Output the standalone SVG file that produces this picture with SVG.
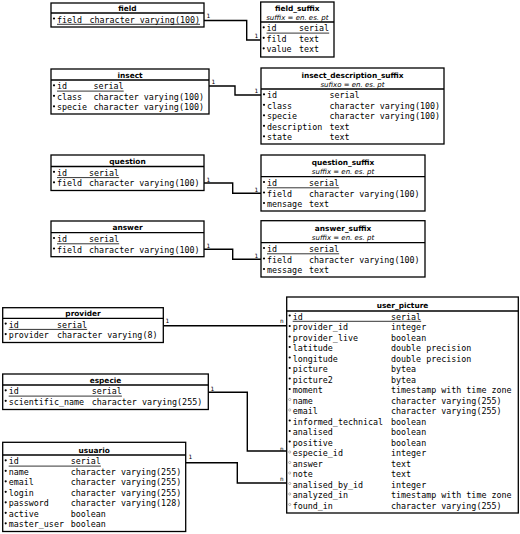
<svg xmlns="http://www.w3.org/2000/svg" width="520" height="534" viewBox="0 0 520 534">
<style>
.box{fill:#fff;stroke:#000;stroke-width:1.3}
.sep{stroke:#000;stroke-width:1.3}
.t{font-family:"DejaVu Sans",sans-serif;font-weight:bold;font-size:7.4px;text-anchor:middle;fill:#000}
.s{font-family:"DejaVu Sans",sans-serif;font-style:italic;font-size:7px;text-anchor:middle;fill:#000}
.r{font-family:"DejaVu Sans Mono",monospace;font-size:8.35px;fill:#000}
.u{stroke:#000;stroke-width:0.8}
.nn{fill:#000}
.nl{fill:#fff;stroke:#888;stroke-width:0.6}
.c{fill:none;stroke:#000;stroke-width:1.4}
.l{font-family:"DejaVu Sans Mono",monospace;font-size:6px;fill:#000}
</style>
<rect width="520" height="534" fill="#fff"/>
<g id="connectors">
<path class="c" d="M204,20.5 H246.7 V40 H260.7"/>
<path class="c" d="M209,86 H235 V95 H261"/>
<path class="c" d="M204,183 H232.7 V193.3 H261"/>
<path class="c" d="M204,249.3 H232.7 V259.3 H261"/>
<path class="c" d="M163.3,325.7 H286.7"/>
<path class="c" d="M208.3,392.3 H247.3 V451 H286.7"/>
<path class="c" d="M185.7,462.7 H237.3 V483 H286.7"/>
<text class="l" x="206.5" y="17.5">1</text>
<text class="l" x="254.5" y="37.5">1</text>
<text class="l" x="211.5" y="84">1</text>
<text class="l" x="254.5" y="93">1</text>
<text class="l" x="206.5" y="181.5">1</text>
<text class="l" x="254.5" y="191.5">1</text>
<text class="l" x="206.5" y="247.5">1</text>
<text class="l" x="254.5" y="257.5">1</text>
<text class="l" x="165.5" y="322.5">1</text>
<text class="l" x="280" y="322.5">n</text>
<text class="l" x="210.5" y="391">1</text>
<text class="l" x="280" y="450.5">n</text>
<text class="l" x="188.5" y="459">1</text>
<text class="l" x="280" y="480.5">n</text>
</g>
<g id="field">
<rect class="box" x="51" y="3" width="153" height="24"/>
<line class="sep" x1="51" y1="13" x2="204" y2="13"/>
<text class="t" x="127.5" y="10.8">field</text>
<circle class="nn" cx="54" cy="18.5" r="1.1"/>
<text class="r" x="57" y="22.5">field</text><text class="r" x="89.5" y="22.5">character varying(100)</text>
<line class="u" x1="57" y1="24.3" x2="200" y2="24.3"/>
</g>
<g id="field_suffix">
<rect class="box" x="260.7" y="2" width="73.3" height="55"/>
<line class="sep" x1="260.7" y1="22" x2="334" y2="22"/>
<text class="t" x="297.3" y="10.8">field_suffix</text>
<text class="s" x="297.3" y="19.5">suffix = en. es. pt</text>
<circle class="nn" cx="263.7" cy="27.3" r="1.1"/>
<text class="r" x="266.5" y="31.3">id</text><text class="r" x="299" y="31.3">serial</text>
<line class="u" x1="266.5" y1="33.1" x2="329.2" y2="33.1"/>
<circle class="nn" cx="263.7" cy="37.8" r="1.1"/>
<text class="r" x="266.5" y="41.8">fild</text><text class="r" x="299" y="41.8">text</text>
<circle class="nn" cx="263.7" cy="48.3" r="1.1"/>
<text class="r" x="266.5" y="52.3">value</text><text class="r" x="299" y="52.3">text</text>
</g>
<g id="insect">
<rect class="box" x="51" y="69" width="158" height="45"/>
<line class="sep" x1="51" y1="80" x2="209" y2="80"/>
<text class="t" x="130" y="77.7">insect</text>
<circle class="nn" cx="54" cy="85.3" r="1.1"/>
<text class="r" x="57" y="89.3">id</text><text class="r" x="93.5" y="89.3">serial</text>
<line class="u" x1="57" y1="91.1" x2="123.7" y2="91.1"/>
<circle class="nn" cx="54" cy="95.8" r="1.1"/>
<text class="r" x="57" y="99.8">class</text><text class="r" x="93.5" y="99.8">character varying(100)</text>
<circle class="nn" cx="54" cy="106.3" r="1.1"/>
<text class="r" x="57" y="110.3">specie</text><text class="r" x="93.5" y="110.3">character varying(100)</text>
</g>
<g id="insect_description_suffix">
<rect class="box" x="261" y="68" width="183" height="76"/>
<line class="sep" x1="261" y1="89" x2="444" y2="89"/>
<text class="t" x="352.5" y="77.5">insect_description_suffix</text>
<text class="s" x="352.5" y="86.8">sufixo = en. es. pt</text>
<circle class="nn" cx="264" cy="94.3" r="1.1"/>
<text class="r" x="267" y="98.3">id</text><text class="r" x="329.5" y="98.3">serial</text>
<circle class="nn" cx="264" cy="104.8" r="1.1"/>
<text class="r" x="267" y="108.8">class</text><text class="r" x="329.5" y="108.8">character varying(100)</text>
<circle class="nn" cx="264" cy="115.3" r="1.1"/>
<text class="r" x="267" y="119.3">specie</text><text class="r" x="329.5" y="119.3">character varying(100)</text>
<circle class="nn" cx="264" cy="125.8" r="1.1"/>
<text class="r" x="267" y="129.8">description</text><text class="r" x="329.5" y="129.8">text</text>
<circle class="nn" cx="264" cy="136.3" r="1.1"/>
<text class="r" x="267" y="140.3">state</text><text class="r" x="329.5" y="140.3">text</text>
</g>
<g id="question">
<rect class="box" x="51" y="155" width="153" height="35.5"/>
<line class="sep" x1="51" y1="166.5" x2="204" y2="166.5"/>
<text class="t" x="127.5" y="164.2">question</text>
<circle class="nn" cx="54" cy="171.8" r="1.1"/>
<text class="r" x="57" y="175.8">id</text><text class="r" x="89" y="175.8">serial</text>
<line class="u" x1="57" y1="177.6" x2="119.2" y2="177.6"/>
<circle class="nn" cx="54" cy="182.3" r="1.1"/>
<text class="r" x="57" y="186.3">field</text><text class="r" x="89" y="186.3">character varying(100)</text>
</g>
<g id="question_suffix">
<rect class="box" x="261" y="155" width="164" height="56"/>
<line class="sep" x1="261" y1="176.7" x2="425" y2="176.7"/>
<text class="t" x="343" y="165.2">question_suffix</text>
<text class="s" x="343" y="174">suffix = en. es. pt</text>
<circle class="nn" cx="264" cy="182" r="1.1"/>
<text class="r" x="267" y="186">id</text><text class="r" x="309" y="186">serial</text>
<line class="u" x1="267" y1="187.8" x2="339.2" y2="187.8"/>
<circle class="nn" cx="264" cy="192.5" r="1.1"/>
<text class="r" x="267" y="196.5">field</text><text class="r" x="309" y="196.5">character varying(100)</text>
<circle class="nn" cx="264" cy="203" r="1.1"/>
<text class="r" x="267" y="207">mensage</text><text class="r" x="309" y="207">text</text>
</g>
<g id="answer">
<rect class="box" x="51" y="221" width="153" height="35.7"/>
<line class="sep" x1="51" y1="232.7" x2="204" y2="232.7"/>
<text class="t" x="127.5" y="230.4">answer</text>
<circle class="nn" cx="54" cy="238" r="1.1"/>
<text class="r" x="57" y="242">id</text><text class="r" x="89" y="242">serial</text>
<line class="u" x1="57" y1="243.8" x2="119.2" y2="243.8"/>
<circle class="nn" cx="54" cy="248.5" r="1.1"/>
<text class="r" x="57" y="252.5">field</text><text class="r" x="89" y="252.5">character varying(100)</text>
</g>
<g id="answer_suffix">
<rect class="box" x="261" y="220.7" width="164" height="56.3"/>
<line class="sep" x1="261" y1="242.7" x2="425" y2="242.7"/>
<text class="t" x="343" y="230.8">answer_suffix</text>
<text class="s" x="343" y="240">suffix = en. es. pt</text>
<circle class="nn" cx="264" cy="248" r="1.1"/>
<text class="r" x="267" y="252">id</text><text class="r" x="309" y="252">serial</text>
<line class="u" x1="267" y1="253.8" x2="339.2" y2="253.8"/>
<circle class="nn" cx="264" cy="258.5" r="1.1"/>
<text class="r" x="267" y="262.5">field</text><text class="r" x="309" y="262.5">character varying(100)</text>
<circle class="nn" cx="264" cy="269" r="1.1"/>
<text class="r" x="267" y="273">message</text><text class="r" x="309" y="273">text</text>
</g>
<g id="provider">
<rect class="box" x="2.7" y="307.7" width="160.6" height="34.8"/>
<line class="sep" x1="2.7" y1="318.3" x2="163.3" y2="318.3"/>
<text class="t" x="83" y="316">provider</text>
<circle class="nn" cx="5.7" cy="323.6" r="1.1"/>
<text class="r" x="8.7" y="327.6">id</text><text class="r" x="57" y="327.6">serial</text>
<line class="u" x1="8.7" y1="329.4" x2="87.2" y2="329.4"/>
<circle class="nn" cx="5.7" cy="334.1" r="1.1"/>
<text class="r" x="8.7" y="338.1">provider</text><text class="r" x="57" y="338.1">character varying(8)</text>
</g>
<g id="especie">
<rect class="box" x="2.7" y="374" width="205.6" height="35.5"/>
<line class="sep" x1="2.7" y1="385" x2="208.3" y2="385"/>
<text class="t" x="105.5" y="382.7">especie</text>
<circle class="nn" cx="5.7" cy="390.3" r="1.1"/>
<text class="r" x="8.7" y="394.3">id</text><text class="r" x="91.7" y="394.3">serial</text>
<line class="u" x1="8.7" y1="396.1" x2="121.9" y2="396.1"/>
<circle class="nn" cx="5.7" cy="400.8" r="1.1"/>
<text class="r" x="8.7" y="404.8">scientific_name</text><text class="r" x="91.7" y="404.8">character varying(255)</text>
</g>
<g id="usuario">
<rect class="box" x="2.7" y="442.3" width="183" height="89.2"/>
<line class="sep" x1="2.7" y1="455" x2="185.7" y2="455"/>
<text class="t" x="94.2" y="452.7">usuario</text>
<circle class="nn" cx="5.7" cy="460.3" r="1.1"/>
<text class="r" x="8.7" y="464.3">id</text><text class="r" x="70.7" y="464.3">serial</text>
<line class="u" x1="8.7" y1="466.1" x2="100.9" y2="466.1"/>
<circle class="nn" cx="5.7" cy="470.8" r="1.1"/>
<text class="r" x="8.7" y="474.8">name</text><text class="r" x="70.7" y="474.8">character varying(255)</text>
<circle class="nn" cx="5.7" cy="481.3" r="1.1"/>
<text class="r" x="8.7" y="485.3">email</text><text class="r" x="70.7" y="485.3">character varying(255)</text>
<circle class="nn" cx="5.7" cy="491.8" r="1.1"/>
<text class="r" x="8.7" y="495.8">login</text><text class="r" x="70.7" y="495.8">character varying(255)</text>
<circle class="nn" cx="5.7" cy="502.3" r="1.1"/>
<text class="r" x="8.7" y="506.3">password</text><text class="r" x="70.7" y="506.3">character varying(128)</text>
<circle class="nn" cx="5.7" cy="512.8" r="1.1"/>
<text class="r" x="8.7" y="516.8">active</text><text class="r" x="70.7" y="516.8">boolean</text>
<circle class="nn" cx="5.7" cy="523.3" r="1.1"/>
<text class="r" x="8.7" y="527.3">master_user</text><text class="r" x="70.7" y="527.3">boolean</text>
</g>
<g id="user_picture">
<rect class="box" x="286.7" y="297" width="231.6" height="216"/>
<line class="sep" x1="286.7" y1="311" x2="518.3" y2="311"/>
<text class="t" x="402.5" y="308.4">user_picture</text>
<circle class="nn" cx="289.7" cy="315.5" r="1.1"/>
<text class="r" x="292.7" y="319.5">id</text><text class="r" x="391" y="319.5">serial</text>
<line class="u" x1="292.7" y1="321.3" x2="421.2" y2="321.3"/>
<circle class="nn" cx="289.7" cy="326" r="1.1"/>
<text class="r" x="292.7" y="330">provider_id</text><text class="r" x="391" y="330">integer</text>
<circle class="nn" cx="289.7" cy="336.5" r="1.1"/>
<text class="r" x="292.7" y="340.5">provider_live</text><text class="r" x="391" y="340.5">boolean</text>
<circle class="nn" cx="289.7" cy="347" r="1.1"/>
<text class="r" x="292.7" y="351">latitude</text><text class="r" x="391" y="351">double precision</text>
<circle class="nn" cx="289.7" cy="357.5" r="1.1"/>
<text class="r" x="292.7" y="361.5">longitude</text><text class="r" x="391" y="361.5">double precision</text>
<circle class="nn" cx="289.7" cy="368" r="1.1"/>
<text class="r" x="292.7" y="372">picture</text><text class="r" x="391" y="372">bytea</text>
<circle class="nn" cx="289.7" cy="378.5" r="1.1"/>
<text class="r" x="292.7" y="382.5">picture2</text><text class="r" x="391" y="382.5">bytea</text>
<circle class="nn" cx="289.7" cy="389" r="1.1"/>
<text class="r" x="292.7" y="393">moment</text><text class="r" x="391" y="393">timestamp with time zone</text>
<circle class="nl" cx="289.7" cy="399.5" r="1.1"/>
<text class="r" x="292.7" y="403.5">name</text><text class="r" x="391" y="403.5">character varying(255)</text>
<circle class="nl" cx="289.7" cy="410" r="1.1"/>
<text class="r" x="292.7" y="414">email</text><text class="r" x="391" y="414">character varying(255)</text>
<circle class="nn" cx="289.7" cy="420.5" r="1.1"/>
<text class="r" x="292.7" y="424.5">informed_technical</text><text class="r" x="391" y="424.5">boolean</text>
<circle class="nn" cx="289.7" cy="431" r="1.1"/>
<text class="r" x="292.7" y="435">analised</text><text class="r" x="391" y="435">boolean</text>
<circle class="nn" cx="289.7" cy="441.5" r="1.1"/>
<text class="r" x="292.7" y="445.5">positive</text><text class="r" x="391" y="445.5">boolean</text>
<circle class="nl" cx="289.7" cy="452" r="1.1"/>
<text class="r" x="292.7" y="456">especie_id</text><text class="r" x="391" y="456">integer</text>
<circle class="nl" cx="289.7" cy="462.5" r="1.1"/>
<text class="r" x="292.7" y="466.5">answer</text><text class="r" x="391" y="466.5">text</text>
<circle class="nl" cx="289.7" cy="473" r="1.1"/>
<text class="r" x="292.7" y="477">note</text><text class="r" x="391" y="477">text</text>
<circle class="nl" cx="289.7" cy="483.5" r="1.1"/>
<text class="r" x="292.7" y="487.5">analised_by_id</text><text class="r" x="391" y="487.5">integer</text>
<circle class="nl" cx="289.7" cy="494" r="1.1"/>
<text class="r" x="292.7" y="498">analyzed_in</text><text class="r" x="391" y="498">timestamp with time zone</text>
<circle class="nl" cx="289.7" cy="504.5" r="1.1"/>
<text class="r" x="292.7" y="508.5">found_in</text><text class="r" x="391" y="508.5">character varying(255)</text>
</g>
</svg>
